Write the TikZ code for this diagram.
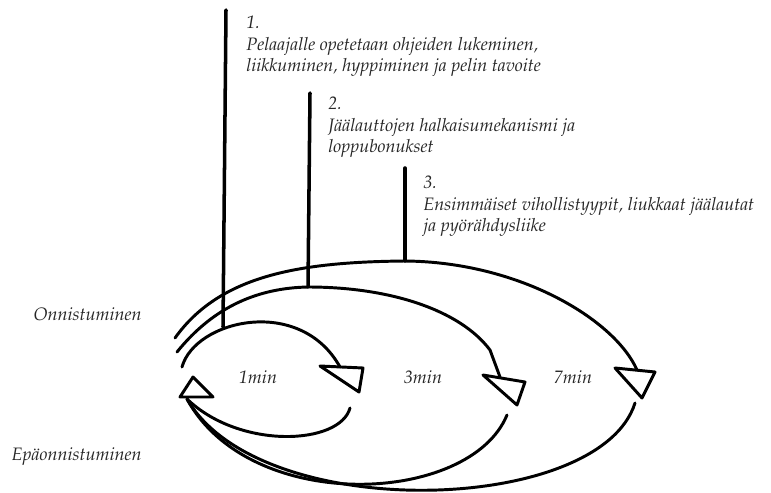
\documentclass[tikz,border=0pt]{standalone}
\usepackage[T1]{fontenc}
\usepackage{mathpazo}

\begin{document}
\begin{tikzpicture}[x=0.025cm,y=-0.025cm,
  arc/.style={line width=2.1pt,line join=round,line cap=round},
  stem/.style={line width=2.5pt,line cap=round},
  note/.style={inner sep=0pt,align=left,text=black!85,
    font=\itshape\fontsize{12.8}{15.2}\selectfont}]
\useasboundingbox (0,0) rectangle (771,493);
% level notes:
\node[note,anchor=north west] (n1) at (246,16) {1.\\Pelaajalle opetetaan ohjeiden lukeminen,\\liikkuminen, hyppiminen ja pelin tavoite};
\node[note,anchor=north west] (n2) at (328,97) {2.\\Jäälauttojen halkaisumekanismi ja\\loppubonukset};
\node[note,anchor=north west] (n3) at (423,176) {3.\\Ensimmäiset vihollistyypit, liukkaat jäälautat\\ja pyörähdysliike};
\node[note,anchor=base east] (win) at (142,320) {Onnistuminen};
\node[note,anchor=base east] (fail) at (142,460) {Epäonnistuminen};
\node[note] (m1) at (258,377) {1min};
\node[note] (m3) at (423,377) {3min};
\node[note] (m7) at (573,377) {7min};
% arc ends:
\coordinate (s1) at (182,367); \coordinate (e1) at (340,367);
\coordinate (s2) at (177,352); \coordinate (e2) at (500,377);
\coordinate (s3) at (175,338); \coordinate (e3) at (637,370);
\coordinate (back) at (187,399);
% success arcs:
\draw[arc] (s1) .. controls (195,320) and (300,295) .. (e1);
\draw[arc] (s2) .. controls (215,305) and (260,288) .. (308,287)
  .. controls (390,287) and (460,310) .. (490,350) -- (e2);
\draw[arc] (s3) .. controls (220,275) and (300,262) .. (405,261)
  .. controls (520,262) and (615,320) .. (e3);
\draw[arc] (320,366) -- (363,368) -- (359,392) -- cycle;
\draw[arc] (483,375) -- (525,382) -- (517,405) -- cycle;
\draw[arc] (615,368) -- (655,372) -- (642,398) -- cycle;
% failure arcs:
\draw[arc] (350,408) .. controls (340,445) and (240,450) .. (back);
\draw[arc] (507,415) .. controls (470,505) and (250,515) .. (back);
\draw[arc] (635,403) .. controls (600,515) and (260,525) .. (back);
\draw[arc] (193,377) -- (213,397) -- (180,397) -- cycle;
% stems:
\draw[stem] (226,10) -- (223,327);
\draw[stem] (310,93) -- (308,287);
\draw[stem] (405,168) -- (405,261);
\end{tikzpicture}
\end{document}
